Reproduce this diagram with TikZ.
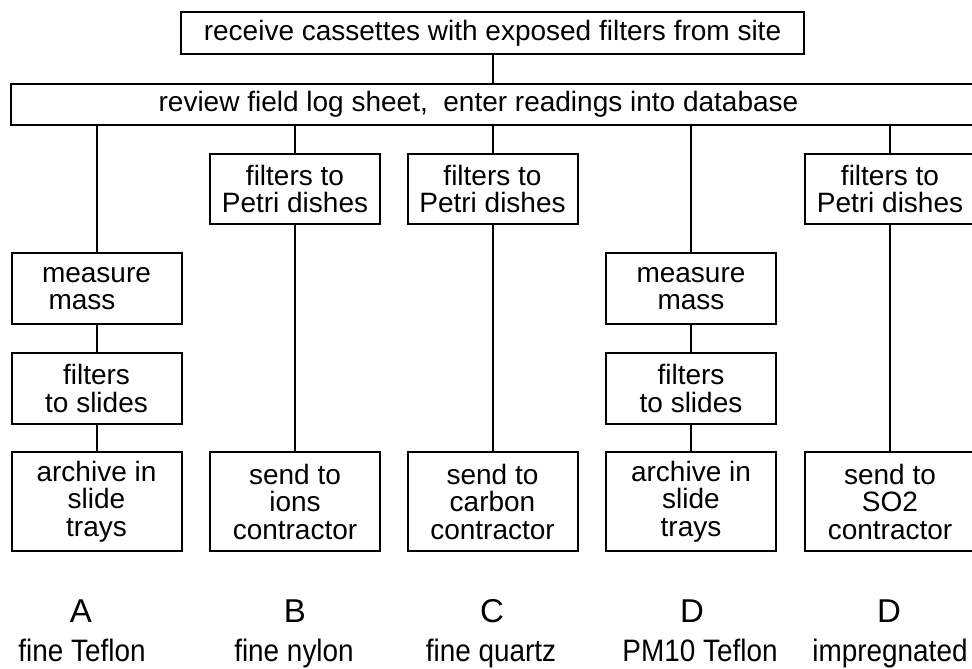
\documentclass[tikz,border=0pt]{standalone}
\usepackage{fontspec}
\setmainfont{Liberation Sans}
\newfontfamily\labfont[FakeStretch=0.9]{Liberation Sans}
\usepackage{tikz}
\usetikzlibrary{positioning}
\tikzset{
  stepBox/.style={draw, line width=2pt, inner sep=0pt, align=center,
    font=\fontsize{28}{27.5}\selectfont},
  colBox/.style={stepBox, minimum width=170pt},
  petriBox/.style={colBox, minimum height=70pt},
  massBox/.style={colBox, minimum height=71pt},
  endBox/.style={colBox, minimum height=99pt},
  link/.style={draw, line width=2pt},
  tagLab/.style={anchor=base, font=\fontsize{33}{33}\selectfont},
  kindLab/.style={anchor=base, font=\labfont\fontsize{31}{31}\selectfont}
}

\begin{document}
\begin{tikzpicture}[x=1pt,y=1pt]
  \useasboundingbox (0,-669) rectangle (972,0);
  \clip (0,-669) rectangle (972,0);

  \node[stepBox, minimum width=623pt, minimum height=42pt] (receive) at (492.5,-33)
    {receive cassettes with exposed filters from site};
  \node[stepBox, minimum width=965pt, minimum height=41pt] (review) at (493.5,-104.5)
    {review field log sheet,\ \ enter readings into database\hspace*{30pt}};
  \draw[link] (receive.south) -- (receive.south |- review.north);

  % column A
  \node[massBox] (massA) at (96.5,-288.5) {measure\\mass\hspace*{29pt}};
  \node[massBox] (slidesA) at (96.5,-388.5) {filters\\to slides};
  \node[endBox] (archiveA) at (96.5,-501.5) {archive in\\slide\\trays};
  % column B
  \node[petriBox] (petriB) at (295,-189) {filters to\\Petri dishes};
  \node[endBox] (ionsB) at (295,-501.5) {send to\\ions\\contractor};
  % column C
  \node[petriBox] (petriC) at (492.5,-189) {filters to\\Petri dishes};
  \node[endBox] (carbonC) at (492.5,-501.5) {send to\\carbon\\contractor};
  % column D
  \node[massBox] (massD) at (691,-288.5) {measure\\mass};
  \node[massBox] (slidesD) at (691,-388.5) {filters\\to slides};
  \node[endBox] (archiveD) at (691,-501.5) {archive in\\slide\\trays};
  % column E
  \node[petriBox] (petriE) at (890,-189) {filters to\\Petri dishes};
  \node[endBox] (sulfurE) at (890,-501.5) {send to\\SO2\\contractor};

  \draw[link] (review.south -| massA.north) -- (massA.north);
  \draw[link] (massA) -- (slidesA);
  \draw[link] (slidesA) -- (archiveA);
  \draw[link] (review.south -| petriB.north) -- (petriB.north);
  \draw[link] (petriB) -- (ionsB);
  \draw[link] (review.south -| petriC.north) -- (petriC.north);
  \draw[link] (petriC) -- (carbonC);
  \draw[link] (review.south -| massD.north) -- (massD.north);
  \draw[link] (massD) -- (slidesD);
  \draw[link] (slidesD) -- (archiveD);
  \draw[link] (review.south -| petriE.north) -- (petriE.north);
  \draw[link] (petriE) -- (sulfurE);

  % filter labels
  \node[tagLab] (tagA) at (81,-622) {A};
  \node[tagLab] (tagB) at (295,-622) {B};
  \node[tagLab] (tagC) at (492,-622) {C};
  \node[tagLab] (tagD) at (692,-622) {D};
  \node[tagLab] (tagE) at (889,-622) {D};
  \node[kindLab] (kindA) at (82,-661) {fine Teflon};
  \node[kindLab] (kindB) at (294,-661) {fine nylon};
  \node[kindLab] (kindC) at (491,-661) {fine quartz};
  \node[kindLab] (kindD) at (700,-661) {PM10 Teflon};
  \node[kindLab] (kindE) at (890,-661) {impregnated};
\end{tikzpicture}
\end{document}
